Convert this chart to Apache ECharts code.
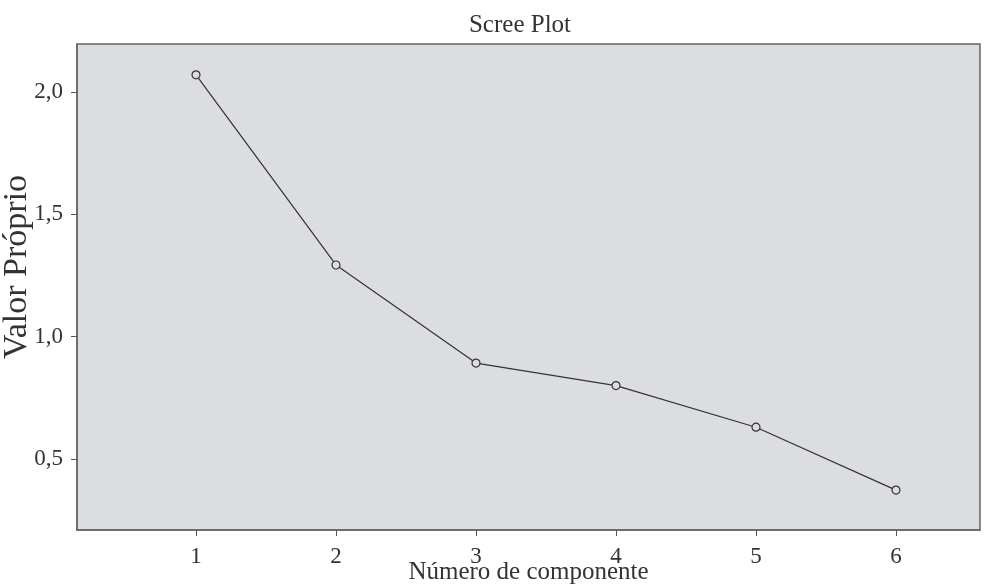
<!DOCTYPE html>
<html>
<head>
<meta charset="utf-8">
<script src="https://cdn.jsdelivr.net/npm/echarts@6/dist/echarts.min.js"></script>
<style>html,body{margin:0;padding:0;background:#fff}#c{width:994px;height:585px}</style>
</head>
<body>
<div id="c"></div>
<script>
const components = [1, 2, 3, 4, 5, 6];
const eigenvalues = [2.07, 1.293, 0.892, 0.80, 0.63, 0.373];
const xTicks = [1, 2, 3, 4, 5, 6];
const yTicks = [0.5, 1.0, 1.5, 2.0];

const font = 'Liberation Serif';
const chart = echarts.init(document.getElementById('c'));
chart.setOption({
  animation: false,
  backgroundColor: '#fff',
  title: {
    text: 'Scree Plot', left: 515, top: 8, textAlign: 'center',
    textStyle: { fontFamily: font, fontSize: 25, fontWeight: 'normal', color: '#333' }
  },
  grid: {
    left: 77, right: 14, top: 44, bottom: 55,
    outerBoundsMode: 'none', containLabel: false,
    show: true, backgroundColor: '#dcdde0', borderColor: '#666', borderWidth: 1.5
  },
  xAxis: {
    type: 'value', min: 0.15, max: 6.6,
    name: 'Número de componente', nameLocation: 'middle', nameGap: 30, nameMoveOverlap: false,
    nameTextStyle: { fontFamily: font, fontSize: 25, color: '#333' },
    axisLine: { show: true, lineStyle: { color: '#666', width: 1.5 } },
    axisTick: { show: true, customValues: xTicks, length: 6, lineStyle: { color: '#555' } },
    axisLabel: { customValues: xTicks, fontFamily: font, fontSize: 23, color: '#333', margin: 15 },
    splitLine: { show: false }
  },
  yAxis: {
    type: 'value', min: 0.21, max: 2.196,
    name: 'Valor Próprio', nameLocation: 'middle', nameGap: 43, nameMoveOverlap: false,
    nameTextStyle: { fontFamily: font, fontSize: 34, color: '#333', padding: [0, 0, 0, 40] },
    axisLine: { show: true, lineStyle: { color: '#666', width: 1.5 } },
    axisTick: { show: true, customValues: yTicks, length: 6, lineStyle: { color: '#555' } },
    axisLabel: {
      customValues: yTicks, fontFamily: font, fontSize: 23, color: '#333', margin: 14,
      formatter: v => v.toFixed(1).replace('.', ',')
    },
    splitLine: { show: false }
  },
  series: [{
    type: 'line',
    data: components.map((c, i) => [c, eigenvalues[i]]),
    symbol: 'circle', symbolSize: 8,
    lineStyle: { color: '#333', width: 1.2 },
    itemStyle: { color: '#dcdde0', borderColor: '#333', borderWidth: 1.2 }
  }]
});
</script>
</body>
</html>
